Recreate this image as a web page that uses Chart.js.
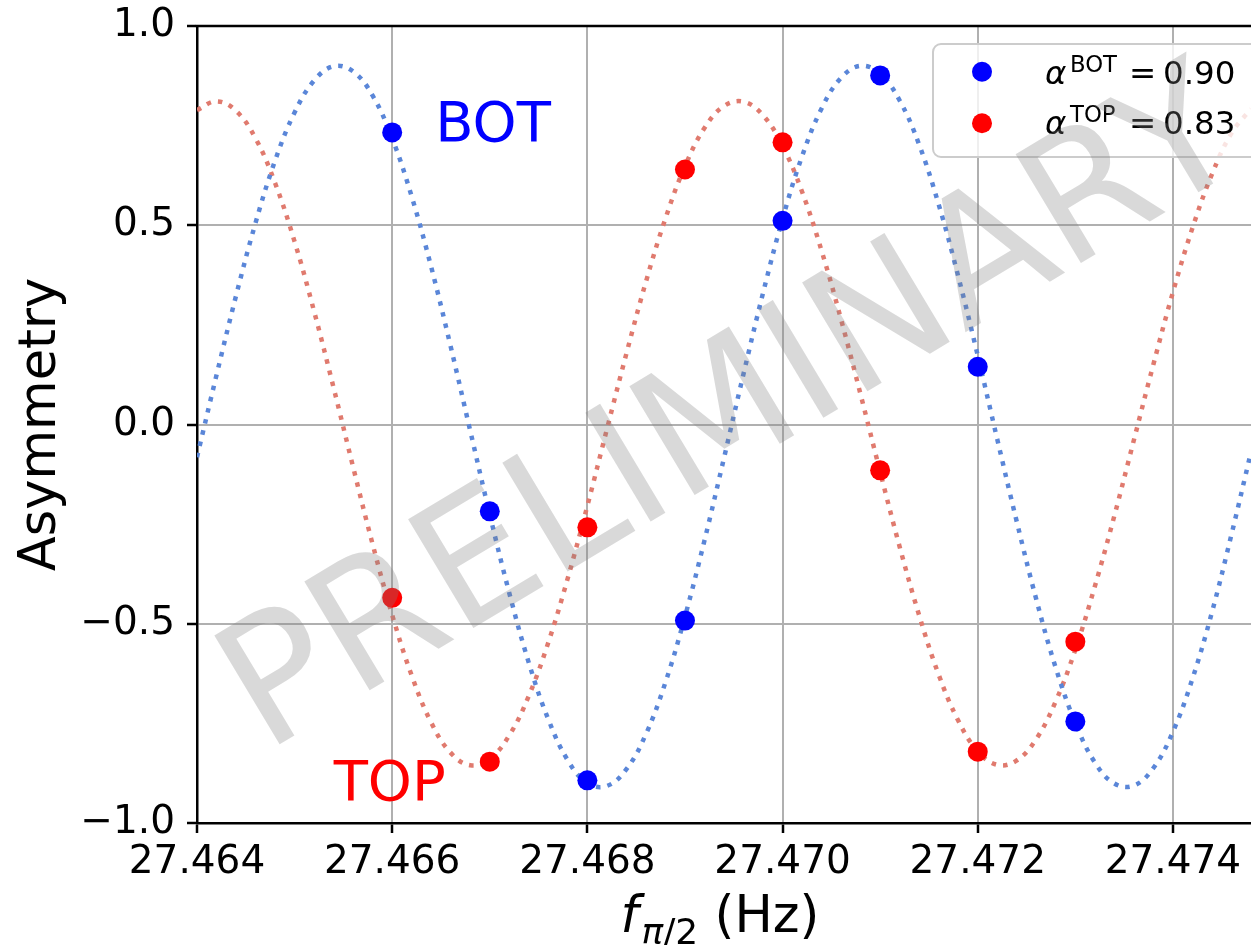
<!DOCTYPE html>
<html>
<head>
<meta charset="utf-8">
<script src="https://cdn.jsdelivr.net/npm/chart.js@4.4.0/dist/chart.umd.min.js"></script>
<style>
  html, body { margin: 0; padding: 0; background: #ffffff; overflow: hidden; }
  canvas { display: block; }
</style>
</head>
<body>
<canvas id="chart" width="1251" height="945"></canvas>
<script>
// Axis ticks
const xTicks = [27.464, 27.466, 27.468, 27.470, 27.472, 27.474];
const yTicks = [-1.0, -0.5, 0.0, 0.5, 1.0];

// Measured asymmetry at each pi/2-pulse frequency (Hz)
const freq = [27.466, 27.467, 27.468, 27.469, 27.470, 27.471, 27.472, 27.473];
const asymBot = [0.733, -0.218, -0.893, -0.492, 0.511, 0.876, 0.145, -0.745];
const asymTop = [-0.435, -0.846, -0.258, 0.640, 0.708, -0.115, -0.821, -0.545];

// Fitted curves, sampled along the frequency axis
const fitFreq = [
  27.4640, 27.4642, 27.4644, 27.4646, 27.4648, 27.4650, 27.4652, 27.4654, 27.4656, 27.4658,
  27.4660, 27.4662, 27.4664, 27.4666, 27.4668, 27.4670, 27.4672, 27.4674, 27.4676, 27.4678,
  27.4680, 27.4682, 27.4684, 27.4686, 27.4688, 27.4690, 27.4692, 27.4694, 27.4696, 27.4698,
  27.4700, 27.4702, 27.4704, 27.4706, 27.4708, 27.4710, 27.4712, 27.4714, 27.4716, 27.4718,
  27.4720, 27.4722, 27.4724, 27.4726, 27.4728, 27.4730, 27.4732, 27.4734, 27.4736, 27.4738,
  27.4740, 27.4742, 27.4744, 27.4746, 27.4748
];
const fitBot = [
  -0.082, 0.124, 0.323, 0.506, 0.662, 0.783, 0.863, 0.899, 0.886, 0.825,
  0.718, 0.572, 0.395, 0.195, -0.016, -0.226, -0.423, -0.598, -0.740, -0.843,
  -0.900, -0.907, -0.865, -0.777, -0.647, -0.482, -0.291, -0.084, 0.127, 0.330,
  0.516, 0.673, 0.793, 0.870, 0.900, 0.880, 0.813, 0.702, 0.552, 0.372,
  0.173, -0.037, -0.244, -0.439, -0.611, -0.749, -0.848, -0.901, -0.906, -0.862,
  -0.771, -0.638, -0.471, -0.276, -0.069
];
const fitTop = [
  0.789, 0.811, 0.787, 0.718, 0.606, 0.459, 0.284, 0.092, -0.107, -0.301,
  -0.478, -0.630, -0.748, -0.824, -0.855, -0.839, -0.780, -0.681, -0.547, -0.385,
  -0.204, -0.012, 0.178, 0.358, 0.517, 0.648, 0.744, 0.799, 0.810, 0.776,
  0.699, 0.584, 0.436, 0.263, 0.075, -0.119, -0.307, -0.479, -0.628, -0.743,
  -0.820, -0.854, -0.843, -0.789, -0.694, -0.565, -0.406, -0.229, -0.039, 0.151,
  0.332, 0.493, 0.628, 0.731, 0.792
];

// Fitted contrast of each detector
const alphaBot = 0.90;
const alphaTop = 0.83;

// Text labels placed in data coordinates (left edge, baseline)
const botLabelPos = { x: 27.46644, y: 0.711 };
const topLabelPos = { x: 27.46540, y: -0.942 };

const FONT = '"DejaVu Sans", "Liberation Sans", sans-serif';
Chart.defaults.font.family = FONT;
Chart.defaults.color = '#000000';

const toPoints = (xs, ys) => xs.map((x, i) => ({ x: x, y: ys[i] }));
const fmtSigned = (v, d) => (v < 0 ? '\u2212' : '') + Math.abs(v).toFixed(d);

const decorations = {
  id: 'decorations',
  afterDraw(chart) {
    const ctx = chart.ctx;
    const a = chart.chartArea;
    const xs = chart.scales.x, ys = chart.scales.y;

    // top spine
    ctx.save();
    ctx.strokeStyle = '#000000';
    ctx.lineWidth = 2.5;
    ctx.beginPath();
    ctx.moveTo(a.left - 1.25, a.top);
    ctx.lineTo(a.right, a.top);
    ctx.stroke();
    ctx.restore();

    // detector labels
    ctx.save();
    ctx.font = '56px ' + FONT;
    ctx.textBaseline = 'alphabetic';
    ctx.textAlign = 'left';
    ctx.fillStyle = '#0000ff';
    ctx.fillText('BOT', xs.getPixelForValue(botLabelPos.x), ys.getPixelForValue(botLabelPos.y));
    ctx.fillStyle = '#ff0000';
    ctx.fillText('TOP', xs.getPixelForValue(topLabelPos.x), ys.getPixelForValue(topLabelPos.y));
    ctx.restore();

    // x-axis title: f_{pi/2} (Hz)
    ctx.save();
    ctx.fillStyle = '#000000';
    ctx.textBaseline = 'alphabetic';
    ctx.textAlign = 'left';
    const big = 51, small = 36;
    const fItal = 'italic ' + big + 'px ' + FONT;
    const piItal = 'italic ' + small + 'px ' + FONT;
    const subUp = small + 'px ' + FONT;
    const reg = big + 'px ' + FONT;
    ctx.font = fItal; const wf = ctx.measureText('f').width + 3;
    ctx.font = piItal; const wpi = ctx.measureText('\u03c0').width;
    ctx.font = subUp; const w2 = ctx.measureText('/2').width;
    ctx.font = reg; const wr = ctx.measureText(' (Hz)').width;
    const total = wf + wpi + w2 + wr;
    let tx = 720 - total / 2;
    const base = 932;
    ctx.font = fItal; ctx.fillText('f', tx, base); tx += wf;
    ctx.font = piItal; ctx.fillText('\u03c0', tx, base + 12); tx += wpi;
    ctx.font = subUp; ctx.fillText('/2', tx, base + 12); tx += w2;
    ctx.font = reg; ctx.fillText(' (Hz)', tx, base);
    ctx.restore();

    // legend
    ctx.save();
    const lx = 933, ly = 44, lw = 340, lh = 113, r = 8;
    ctx.beginPath();
    ctx.roundRect(lx, ly, lw, lh, r);
    ctx.fillStyle = 'rgba(255,255,255,0.8)';
    ctx.fill();
    ctx.strokeStyle = '#cccccc';
    ctx.lineWidth = 2;
    ctx.stroke();
    const rows = [
      { color: '#0000ff', sup: 'BOT', val: alphaBot, my: 71.7, base: 84 },
      { color: '#ff0000', sup: 'TOP', val: alphaTop, my: 123.3, base: 134 }
    ];
    rows.forEach(row => {
      ctx.beginPath();
      ctx.arc(982, row.my, 10, 0, Math.PI * 2);
      ctx.fillStyle = row.color;
      ctx.fill();
      ctx.fillStyle = '#000000';
      ctx.textAlign = 'left';
      ctx.textBaseline = 'alphabetic';
      ctx.font = 'italic 32.5px ' + FONT;
      ctx.fillText('\u03b1', 1045, row.base);
      ctx.font = '22.75px ' + FONT;
      ctx.fillText(row.sup, 1070, row.base - 12.5);
      ctx.font = '32.5px ' + FONT;
      ctx.fillText('=', 1129, row.base);
      ctx.fillText(row.val.toFixed(2), 1163, row.base);
    });
    ctx.restore();

    // watermark
    ctx.save();
    ctx.translate(735, 418);
    ctx.rotate(-31 * Math.PI / 180);
    ctx.font = '174px ' + FONT;
    ctx.textAlign = 'center';
    ctx.textBaseline = 'middle';
    ctx.fillStyle = 'rgba(128,128,128,0.3)';
    ctx.fillText('PRELIMINARY', 0, 0);
    ctx.restore();
  }
};

new Chart(document.getElementById('chart'), {
  type: 'scatter',
  data: {
    datasets: [
      {
        label: 'BOT',
        data: toPoints(freq, asymBot),
        backgroundColor: '#0000ff',
        borderWidth: 0,
        pointRadius: 10,
        order: 0
      },
      {
        label: 'TOP',
        data: toPoints(freq, asymTop),
        backgroundColor: '#ff0000',
        borderWidth: 0,
        pointRadius: 10,
        order: 0
      },
      {
        label: 'BOT fit',
        data: toPoints(fitFreq, fitBot),
        showLine: true,
        pointRadius: 0,
        borderColor: '#5a86d8',
        borderWidth: 4.5,
        borderDash: [4.5, 7],
        borderCapStyle: 'butt',
        tension: 0.4,
        order: 1
      },
      {
        label: 'TOP fit',
        data: toPoints(fitFreq, fitTop),
        showLine: true,
        pointRadius: 0,
        borderColor: '#e07a6e',
        borderWidth: 4.5,
        borderDash: [4.5, 7],
        borderCapStyle: 'butt',
        tension: 0.4,
        order: 1
      }
    ]
  },
  options: {
    responsive: false,
    animation: false,
    devicePixelRatio: 1,
    layout: { autoPadding: false, padding: { top: 26, right: 0, left: 0, bottom: 0 } },
    plugins: {
      legend: { display: false },
      tooltip: { enabled: false }
    },
    scales: {
      x: {
        type: 'linear',
        min: 27.464,
        max: 27.4748,
        afterBuildTicks: (scale) => { scale.ticks = xTicks.map(v => ({ value: v })); },
        afterFit: (scale) => {
          scale.height = 122;
          scale.paddingLeft = 0;
          scale.paddingRight = 0;
        },
        ticks: {
          callback: (v) => Number(v).toFixed(3),
          font: { size: 39 },
          color: '#000000',
          padding: 6,
          maxRotation: 0,
          autoSkip: false
        },
        grid: {
          color: '#b0b0b0',
          lineWidth: 2,
          drawTicks: true,
          tickLength: 10,
          tickColor: '#000000',
          tickWidth: 2.5
        },
        border: { display: true, color: '#000000', width: 2.5 }
      },
      y: {
        type: 'linear',
        min: -1,
        max: 1,
        afterBuildTicks: (scale) => { scale.ticks = yTicks.map(v => ({ value: v })); },
        afterFit: (scale) => {
          scale.width = 197;
          scale.paddingTop = 0;
          scale.paddingBottom = 0;
        },
        ticks: {
          callback: (v) => fmtSigned(Number(v), 1),
          font: { size: 39 },
          color: '#000000',
          padding: 12,
          autoSkip: false
        },
        grid: {
          color: '#b0b0b0',
          lineWidth: 2,
          drawTicks: true,
          tickLength: 10,
          tickColor: '#000000',
          tickWidth: 2.5
        },
        border: { display: true, color: '#000000', width: 2.5 },
        title: {
          display: true,
          text: 'Asymmetry',
          font: { size: 51 },
          color: '#000000',
          padding: { top: 11, bottom: 0 }
        }
      }
    }
  },
  plugins: [decorations]
});
</script>
</body>
</html>
